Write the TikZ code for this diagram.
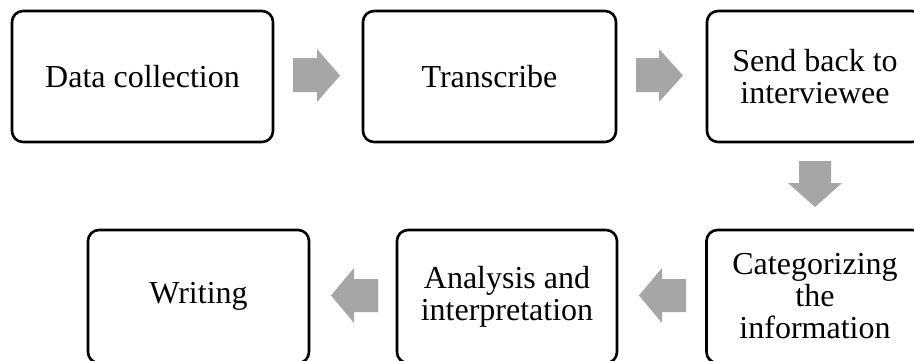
\documentclass[tikz,border=0pt]{standalone}
\usepackage{fontspec}
\setmainfont{Liberation Serif}
\definecolor{arrgray}{RGB}{166,166,166}
\begin{document}
\begin{tikzpicture}[x=1pt,y=-1pt,
  stepbox/.style={draw=black, line width=2.6pt, rounded corners=11pt, fill=white,
    minimum height=131pt, inner sep=0pt, outer sep=0pt, align=center,
    font=\fontsize{32}{32}\selectfont},
  blockarrow/.style={fill=arrgray, draw=none}]
\useasboundingbox (0,0) rectangle (914,360);
\clip (0,0) rectangle (914,360);
\fill[white] (0,0) rectangle (914,360);

\node[stepbox, minimum width=261pt] (dc) at (142.5,76.5) {Data collection};
\node[stepbox, minimum width=253pt] (tr) at (489.5,76.5) {Transcribe};
\node[stepbox, minimum width=216pt] (sb) at (815,76.5) {Send back to\\interviewee};
\node[stepbox, minimum width=217pt, minimum height=133pt] (ci) at (815,296.5) {Categorizing\\the\\information};
\node[stepbox, minimum width=220pt, minimum height=133pt] (ai) at (507,296.5) {Analysis and\\interpretation};
\node[stepbox, minimum width=221pt, minimum height=133pt] (wr) at (198.5,296.5) {Writing};

% right arrows (row 1)
\fill[blockarrow] (293,58) -- (317,58) -- (317,49) -- (340,75.5) -- (317,102) -- (317,92) -- (293,92) -- cycle;
\fill[blockarrow] (636,58) -- (659,58) -- (659,49) -- (683,75.5) -- (659,102) -- (659,92) -- (636,92) -- cycle;
% down arrow
\fill[blockarrow] (799,161) -- (831,161) -- (831,183) -- (842,183) -- (815,207) -- (788,183) -- (799,183) -- cycle;
% left arrows (row 2)
\fill[blockarrow] (686,279) -- (662,279) -- (662,268) -- (639,295.5) -- (662,323) -- (662,312) -- (686,312) -- cycle;
\fill[blockarrow] (378,279) -- (354,279) -- (354,268) -- (331,295.5) -- (354,323) -- (354,312) -- (378,312) -- cycle;
\end{tikzpicture}
\end{document}
